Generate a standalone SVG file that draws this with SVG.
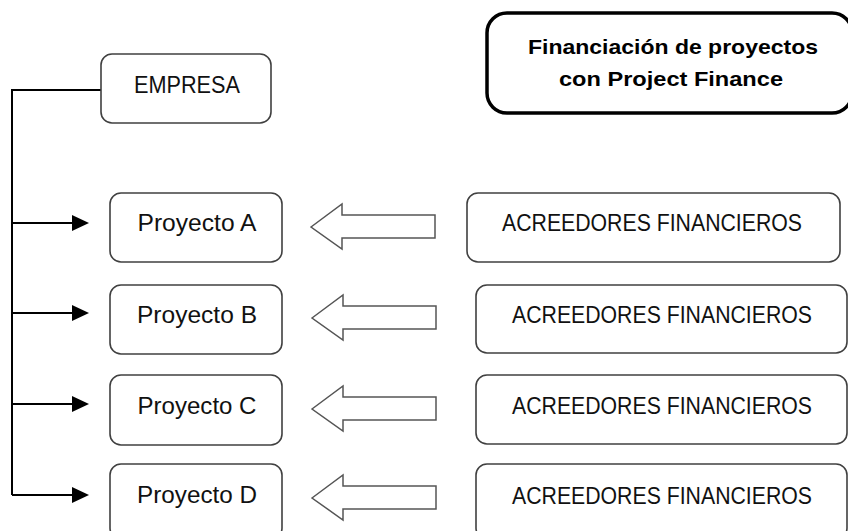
<svg xmlns="http://www.w3.org/2000/svg" width="848" height="531" viewBox="0 0 848 531">
<defs>
<style>
.box{fill:#fff;stroke:#404040;stroke-width:1.6}
.title{fill:#fff;stroke:#000;stroke-width:3.5}
.t{font-family:"Liberation Sans",Arial,sans-serif;font-size:23px;fill:#111;text-anchor:middle}
.tb{font-family:"Liberation Sans",Arial,sans-serif;font-size:21px;font-weight:bold;fill:#000;text-anchor:middle}
.ln{fill:none;stroke:#000;stroke-width:2}
.blk{fill:#fff;stroke:#555;stroke-width:1.5;stroke-linejoin:miter}
</style>
<path id="blockArrow" class="blk" d="M0,0 L31,-23 L31,-12 L124,-12 L124,11 L31,11 L31,22 Z"/>
</defs>
<rect width="848" height="531" fill="#fff"/>

<g id="connectors">
<path class="ln" d="M101,90 H12 V495"/>
<g fill="#000">
<line class="ln" x1="12" y1="223" x2="74" y2="223"/>
<path d="M72,215 L89,223 L72,231 Z"/>
<line class="ln" x1="12" y1="313" x2="74" y2="313"/>
<path d="M72,305 L89,313 L72,321 Z"/>
<line class="ln" x1="12" y1="404" x2="74" y2="404"/>
<path d="M72,396 L89,404 L72,412 Z"/>
<line class="ln" x1="12" y1="495" x2="74" y2="495"/>
<path d="M72,487 L89,495 L72,503 Z"/>
</g>
<use href="#blockArrow" x="311" y="227"/>
<use href="#blockArrow" x="312" y="318"/>
<use href="#blockArrow" x="312" y="409"/>
<use href="#blockArrow" x="312" y="498"/>
</g>

<g id="title">
<rect class="title" x="487" y="13" width="365" height="100" rx="20"/>
<text class="tb" x="673" y="54" textLength="290" lengthAdjust="spacingAndGlyphs">Financiación de proyectos</text>
<text class="tb" x="671" y="86" textLength="224" lengthAdjust="spacingAndGlyphs">con Project Finance</text>
</g>

<g id="empresa">
<rect class="box" x="101" y="54" width="170" height="69" rx="11"/>
<text class="t" x="187" y="93" textLength="106" lengthAdjust="spacingAndGlyphs">EMPRESA</text>
</g>

<g id="proyectoA">
<rect class="box" x="110" y="193" width="172" height="69" rx="11"/>
<text class="t" x="197" y="231" textLength="119" lengthAdjust="spacingAndGlyphs">Proyecto A</text>
</g>
<g id="proyectoB">
<rect class="box" x="110" y="285" width="172" height="69" rx="11"/>
<text class="t" x="197" y="323" textLength="120" lengthAdjust="spacingAndGlyphs">Proyecto B</text>
</g>
<g id="proyectoC">
<rect class="box" x="110" y="375" width="172" height="70" rx="11"/>
<text class="t" x="197" y="414" textLength="119" lengthAdjust="spacingAndGlyphs">Proyecto C</text>
</g>
<g id="proyectoD">
<rect class="box" x="110" y="464" width="172" height="75" rx="11"/>
<text class="t" x="197" y="503" textLength="120" lengthAdjust="spacingAndGlyphs">Proyecto D</text>
</g>

<g id="acreedoresA">
<rect class="box" x="467" y="193" width="373" height="69" rx="11"/>
<text class="t" x="652" y="231" textLength="300" lengthAdjust="spacingAndGlyphs">ACREEDORES FINANCIEROS</text>
</g>
<g id="acreedoresB">
<rect class="box" x="476" y="285" width="371" height="68" rx="11"/>
<text class="t" x="662" y="323" textLength="300" lengthAdjust="spacingAndGlyphs">ACREEDORES FINANCIEROS</text>
</g>
<g id="acreedoresC">
<rect class="box" x="476" y="375" width="371" height="69" rx="11"/>
<text class="t" x="662" y="414" textLength="300" lengthAdjust="spacingAndGlyphs">ACREEDORES FINANCIEROS</text>
</g>
<g id="acreedoresD">
<rect class="box" x="476" y="464" width="371" height="75" rx="11"/>
<text class="t" x="662" y="504" textLength="300" lengthAdjust="spacingAndGlyphs">ACREEDORES FINANCIEROS</text>
</g>
</svg>
